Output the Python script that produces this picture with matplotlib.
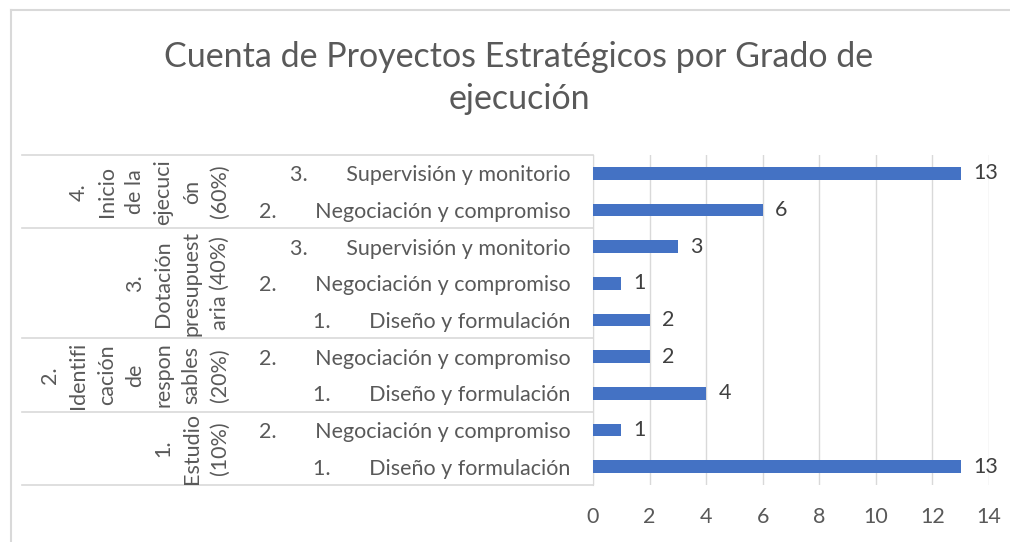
import numpy as np
import matplotlib
matplotlib.use('Agg')
import matplotlib.pyplot as plt
import matplotlib.transforms as mtransforms
from matplotlib.lines import Line2D

plt.rcParams['font.family'] = ['Lato', 'DejaVu Sans']

# data, bottom to top as drawn
categories = ['1.       Diseño y formulación',
              '2.       Negociación y compromiso',
              '1.       Diseño y formulación',
              '2.       Negociación y compromiso',
              '1.       Diseño y formulación',
              '2.       Negociación y compromiso',
              '3.       Supervisión y monitorio',
              '2.       Negociación y compromiso',
              '3.       Supervisión y monitorio']
values = [13, 1, 4, 2, 2, 1, 3, 6, 13]

groups = ['1.\nEstudio\n(10%)',
          '2.\nIdentifi\ncación\nde\nrespon\nsables\n(20%)',
          '3.\nDotación\npresupuest\naria (40%)',
          '4.\nInicio\nde la\nejecuci\nón\n(60%)']
group_sizes = [2, 2, 3, 2]

bar_color = '#4472C4'
grid_color = '#D9D9D9'
text_color = '#595959'
fs = 15.5

fig = plt.figure(figsize=(10.1, 5.42), dpi=100)
ax = fig.add_axes([593/1010, 57/542, 396/1010, 330/542])

y = np.arange(len(values))
ax.barh(y, values, height=0.35, color=bar_color, zorder=3)
ax.set_ylim(-0.5, len(values) - 0.5)
ax.set_xlim(0, 14)
ax.set_xticks(range(0, 15, 2))
ax.set_yticks(y)
ax.set_yticklabels(categories)
ax.tick_params(axis='y', length=0, pad=16, labelsize=fs, labelcolor=text_color)
ax.tick_params(axis='x', length=0, pad=16, labelsize=fs, labelcolor=text_color)
ax.grid(axis='x', color=grid_color, lw=1, zorder=0)
for s in ['top', 'right', 'bottom']:
    ax.spines[s].set_visible(False)
ax.spines['left'].set_color(grid_color)

for yi, v in zip(y, values):
    ax.annotate(str(v), (v, yi), xytext=(9, 0), textcoords='offset points',
                ha='left', va='center', fontsize=fs, color='#404040')

# multi-level axis lines and group labels
trans = mtransforms.blended_transform_factory(ax.transAxes, ax.transData)
left_x = (22 - 593) / 396
edges = np.concatenate([[0], np.cumsum(group_sizes)]) - 0.5
for e in edges:
    ax.add_line(Line2D([left_x, 0], [e, e], transform=trans, color=grid_color,
                       lw=1.2, clip_on=False))
for g, lo, hi in zip(groups, edges[:-1], edges[1:]):
    ax.text((230 - 593) / 396, (lo + hi) / 2, g, transform=trans, rotation=90,
            ha='right', va='center', multialignment='center', linespacing=1.52,
            fontsize=fs, color=text_color)

fig.text(519/1010, 1 - 78/542, 'Cuenta de Proyectos Estratégicos por Grado de\nejecución',
         ha='center', va='center', fontsize=24.5, color=text_color, linespacing=1.35)

# chart area border
fig.add_artist(Line2D([11/1010, 11/1010], [0, 1 - 10/542], color=grid_color, lw=1.5))
fig.add_artist(Line2D([11/1010, 1], [1 - 10/542, 1 - 10/542], color=grid_color, lw=1.5))

fig.savefig('out.png', dpi=100)
